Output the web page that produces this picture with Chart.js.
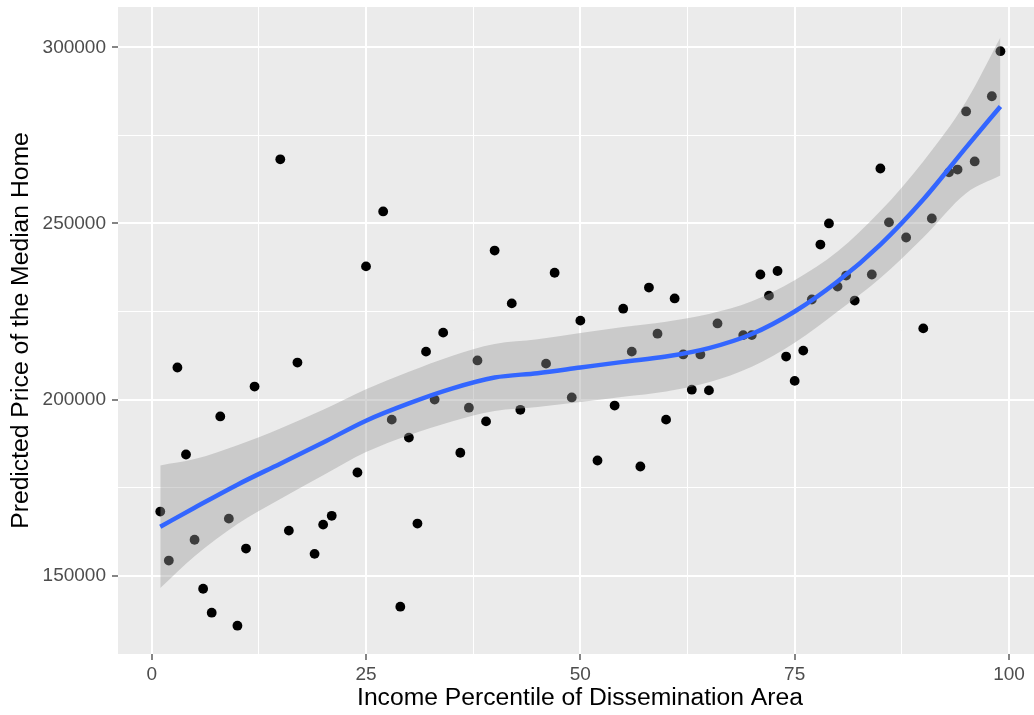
<!DOCTYPE html>
<html>
<head>
<meta charset="utf-8">
<title>Predicted Price of the Median Home</title>
<script src="https://cdn.jsdelivr.net/npm/chart.js@4.4.1/dist/chart.umd.min.js"></script>
<style>
  html, body { margin: 0; padding: 0; background: #ffffff; overflow: hidden; }
  #wrap { width: 1042px; height: 715px; }
</style>
</head>
<body>
<div id="wrap"><canvas id="grafico" width="1042" height="715"></canvas></div>
<script>
// one point per dissemination area
const percentile = [1, 2, 3, 4, 5, 6, 7, 8, 9, 10, 11, 12, 15, 16, 17, 19, 20, 21, 24, 25,
  27, 28, 29, 30, 31, 32, 33, 34, 36, 37, 38, 39, 40, 42, 43, 46, 47, 49, 50, 52,
  54, 55, 56, 57, 58, 59, 60, 61, 62, 63, 64, 65, 66, 69, 70, 71, 72, 73, 74, 75,
  76, 77, 78, 79, 80, 81, 82, 84, 85, 86, 88, 90, 91, 93, 94, 95, 96, 98, 99];
const price = [168200, 154300, 209100, 184400, 160200, 146300, 139500, 195200, 166200, 135800,
  157700, 203700, 268200, 162800, 210500, 156200, 164500, 167000, 179300, 237800,
  253400, 194300, 141200, 189200, 164800, 213600, 200000, 219000, 184900, 197700,
  211100, 193800, 242300, 227300, 197100, 210200, 236000, 200600, 222400, 182700,
  198300, 225800, 213600, 181000, 231800, 218700, 194300, 228700, 212800, 202800,
  212800, 202600, 221600, 218300, 218300, 235500, 229500, 236500, 212200, 205300,
  213900, 228400, 244000, 250000, 232100, 235200, 228100, 235500, 265600, 250300,
  246000, 220200, 251400, 264500, 265300, 281800, 267600, 286100, 298900];

// loess fit and its confidence band
const fitX = [1, 5, 10, 15, 20, 25, 30, 35, 40, 45, 50, 55, 60, 65, 70, 75, 80, 85, 90, 95, 99];
const fitY = [163900, 169300, 175850, 181800, 187800, 194000, 198900, 203100, 206250, 207500,
  209100, 210700, 212200, 214600, 218600, 225000, 233500, 244000, 256800, 271600, 283200];
const fitUpper = [181300, 183100, 187050, 191800, 197100, 202900, 207900, 212400, 215750, 217100,
  218900, 220600, 222100, 224300, 227900, 233900, 242000, 253500, 267600, 284600, 302800];
const fitLower = [146500, 155500, 164650, 171800, 178500, 185100, 189900, 193800, 196750, 197900,
  199300, 200800, 202300, 204900, 209300, 216100, 225000, 234500, 246000, 258600, 263600];

// grid breaks
const xMajor = [0, 25, 50, 75, 100];
const xMinor = [12.5, 37.5, 62.5, 87.5];
const yMajor = [150000, 200000, 250000, 300000];
const yMinor = [175000, 225000, 275000];

const FONT = "'Liberation Sans', Arial, Helvetica, sans-serif";

function pairs(xs, ys) {
  return xs.map((x, i) => ({ x: x, y: ys[i] }));
}

function sortedTicks(major, minor) {
  return [...major, ...minor].sort((a, b) => a - b).map(v => ({ value: v }));
}

// grey panel behind the grid
const panelBackground = {
  id: 'panelBackground',
  beforeDraw(chart) {
    const { ctx, chartArea: a } = chart;
    ctx.save();
    ctx.fillStyle = '#EBEBEB';
    ctx.fillRect(a.left, a.top, a.right - a.left, a.bottom - a.top);
    ctx.restore();
  }
};

function gridFor(major) {
  return {
    color: '#FFFFFF',
    lineWidth: c => major.includes(c.tick.value) ? 2 : 1,
    tickColor: c => major.includes(c.tick.value) ? '#333333' : 'rgba(0,0,0,0)',
    tickWidth: 1.2,
    tickLength: 6
  };
}

const ctx = document.getElementById('grafico').getContext('2d');
new Chart(ctx, {
  type: 'scatter',
  data: {
    datasets: [
      {
        type: 'line',
        label: 'loess',
        data: pairs(fitX, fitY),
        borderColor: '#3366FF',
        borderWidth: 4.5,
        pointRadius: 0,
        cubicInterpolationMode: 'monotone',
        fill: false,
        order: 0
      },
      {
        type: 'line',
        label: 'upper',
        data: pairs(fitX, fitUpper),
        borderColor: 'rgba(0,0,0,0)',
        borderWidth: 0,
        pointRadius: 0,
        cubicInterpolationMode: 'monotone',
        backgroundColor: 'rgba(153,153,153,0.4)',
        fill: '+1',
        order: 1
      },
      {
        type: 'line',
        label: 'lower',
        data: pairs(fitX, fitLower),
        borderColor: 'rgba(0,0,0,0)',
        borderWidth: 0,
        pointRadius: 0,
        cubicInterpolationMode: 'monotone',
        fill: false,
        order: 2
      },
      {
        label: 'areas',
        data: pairs(percentile, price),
        pointRadius: 4.9,
        pointBackgroundColor: '#000000',
        pointBorderWidth: 0,
        order: 3
      }
    ]
  },
  options: {
    responsive: false,
    animation: false,
    layout: { autoPadding: false, padding: { top: 7, left: 0, right: 0, bottom: 0 } },
    plugins: {
      legend: { display: false },
      tooltip: { enabled: false }
    },
    scales: {
      x: {
        type: 'linear',
        position: 'bottom',
        min: -3.93,
        max: 103.85,
        afterBuildTicks: axis => { axis.ticks = sortedTicks(xMajor, xMinor); },
        afterFit: scale => {
          scale.height = 61;
          scale.paddingLeft = 0;
          scale.paddingRight = 0;
        },
        grid: gridFor(xMajor),
        border: { display: false },
        ticks: {
          color: '#4D4D4D',
          font: { family: FONT, size: 19 },
          padding: 3,
          autoSkip: false,
          maxRotation: 0,
          callback: v => xMajor.includes(v) ? String(v) : ''
        },
        title: {
          display: true,
          text: 'Income Percentile of Dissemination Area',
          color: '#000000',
          font: { family: FONT, size: 24.7 },
          padding: { top: 0, bottom: 2 }
        }
      },
      y: {
        type: 'linear',
        min: 127770,
        max: 311440,
        afterBuildTicks: axis => { axis.ticks = sortedTicks(yMajor, yMinor); },
        afterFit: scale => {
          scale.width = 118;
          scale.paddingTop = 0;
          scale.paddingBottom = 0;
        },
        grid: gridFor(yMajor),
        border: { display: false },
        ticks: {
          color: '#4D4D4D',
          font: { family: FONT, size: 19 },
          padding: 6,
          autoSkip: false,
          callback: v => yMajor.includes(v) ? String(v) : ''
        },
        title: {
          display: true,
          text: 'Predicted Price of the Median Home',
          color: '#000000',
          font: { family: FONT, size: 24.7 },
          padding: { top: 6, bottom: 0 }
        }
      }
    }
  },
  plugins: [panelBackground]
});
</script>
</body>
</html>
